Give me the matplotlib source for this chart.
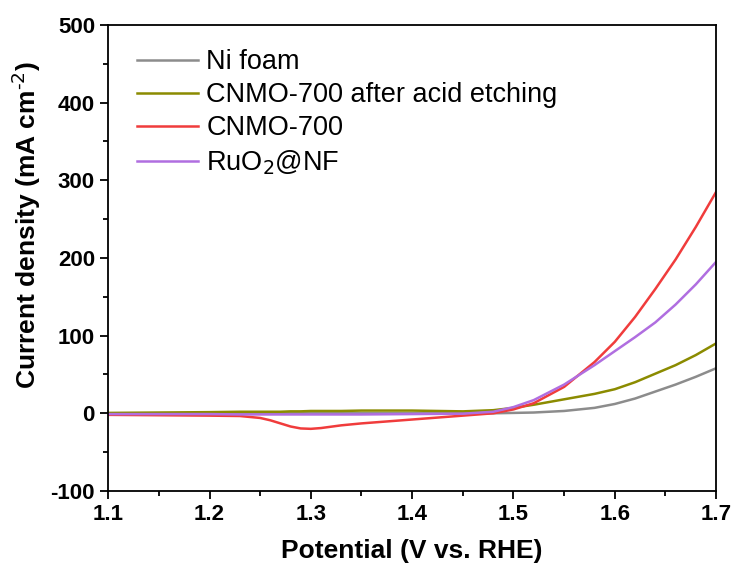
import numpy as np
import matplotlib
matplotlib.use("Agg")
import matplotlib.pyplot as plt

plt.rcParams['font.family'] = ['Liberation Sans', 'DejaVu Sans']
plt.rcParams['axes.unicode_minus'] = False

potential = [1.10, 1.15, 1.20, 1.23, 1.25, 1.26, 1.27, 1.28, 1.29, 1.30, 1.31, 1.33, 1.35, 1.40, 1.45, 1.48, 1.50, 1.52, 1.55, 1.58, 1.60, 1.62, 1.64, 1.66, 1.68, 1.70]

ni_foam = [0, 0, 0, 0, 0, 0, 0, 0, 0, 0, 0, 0, 0, 0, 0, 0, 0.5, 1, 3, 7, 12, 19, 28, 37, 47, 58]
cnmo_etched = [0.5, 1, 1.5, 2, 2, 2, 2, 2.5, 2.5, 3, 3, 3, 3.5, 3.5, 2.5, 4, 7, 11, 18, 25, 31, 40, 51, 62, 75, 90]
cnmo_700 = [-2, -2.5, -3, -3.5, -6, -9, -13, -17, -19.5, -20, -19, -15.5, -13, -8, -3, 0, 5, 13, 34, 66, 92, 124, 160, 198, 240, 285]
ruo2 = [-1, -1, -1, -1.5, -1.5, -1.5, -1.5, -1.5, -1.5, -1.5, -1.5, -1.5, -1.5, -1, -0.5, 2, 8, 17, 37, 62, 80, 98, 117, 140, 166, 195]

labels = ["Ni foam", "CNMO-700 after acid etching", "CNMO-700", "RuO$_2$@NF"]
colors = ["#8c8c8c", "#8b8b00", "#f03c3c", "#b06ee0"]

fig, ax = plt.subplots(figsize=(7.36, 5.65), dpi=100)
fig.subplots_adjust(left=0.147, right=0.973, top=0.956, bottom=0.131)

for y, lab, c in zip([ni_foam, cnmo_etched, cnmo_700, ruo2], labels, colors):
    ax.plot(potential, y, color=c, lw=1.8, label=lab)

ax.set_xlim(1.1, 1.7)
ax.set_ylim(-100, 500)
ax.set_xticks(np.arange(1.1, 1.71, 0.1))
ax.set_xticks(np.arange(1.15, 1.7, 0.1), minor=True)
ax.set_yticks(np.arange(-100, 501, 100))
ax.set_yticks(np.arange(-50, 500, 100), minor=True)
ax.tick_params(which='major', length=6, width=1.3, labelsize=16)
ax.tick_params(which='minor', length=3.5, width=1.3)
for lab in ax.get_xticklabels() + ax.get_yticklabels():
    lab.set_fontweight('bold')
for s in ax.spines.values():
    s.set_linewidth(1.3)

ax.set_xlabel("Potential (V vs. RHE)", fontsize=19, fontweight='bold', labelpad=10)
ax.set_ylabel("Current density (mA cm$^{\\text{-2}}$)", fontsize=19, fontweight='bold')
ax.yaxis.set_label_coords(-0.108, 0.57)

leg = ax.legend(loc='upper left', frameon=False, fontsize=19.5, handlelength=2.25,
                handletextpad=0.3, labelspacing=0.26, borderpad=0, borderaxespad=0,
                bbox_to_anchor=(0.048, 0.948))

fig.savefig("out.png", dpi=100)
